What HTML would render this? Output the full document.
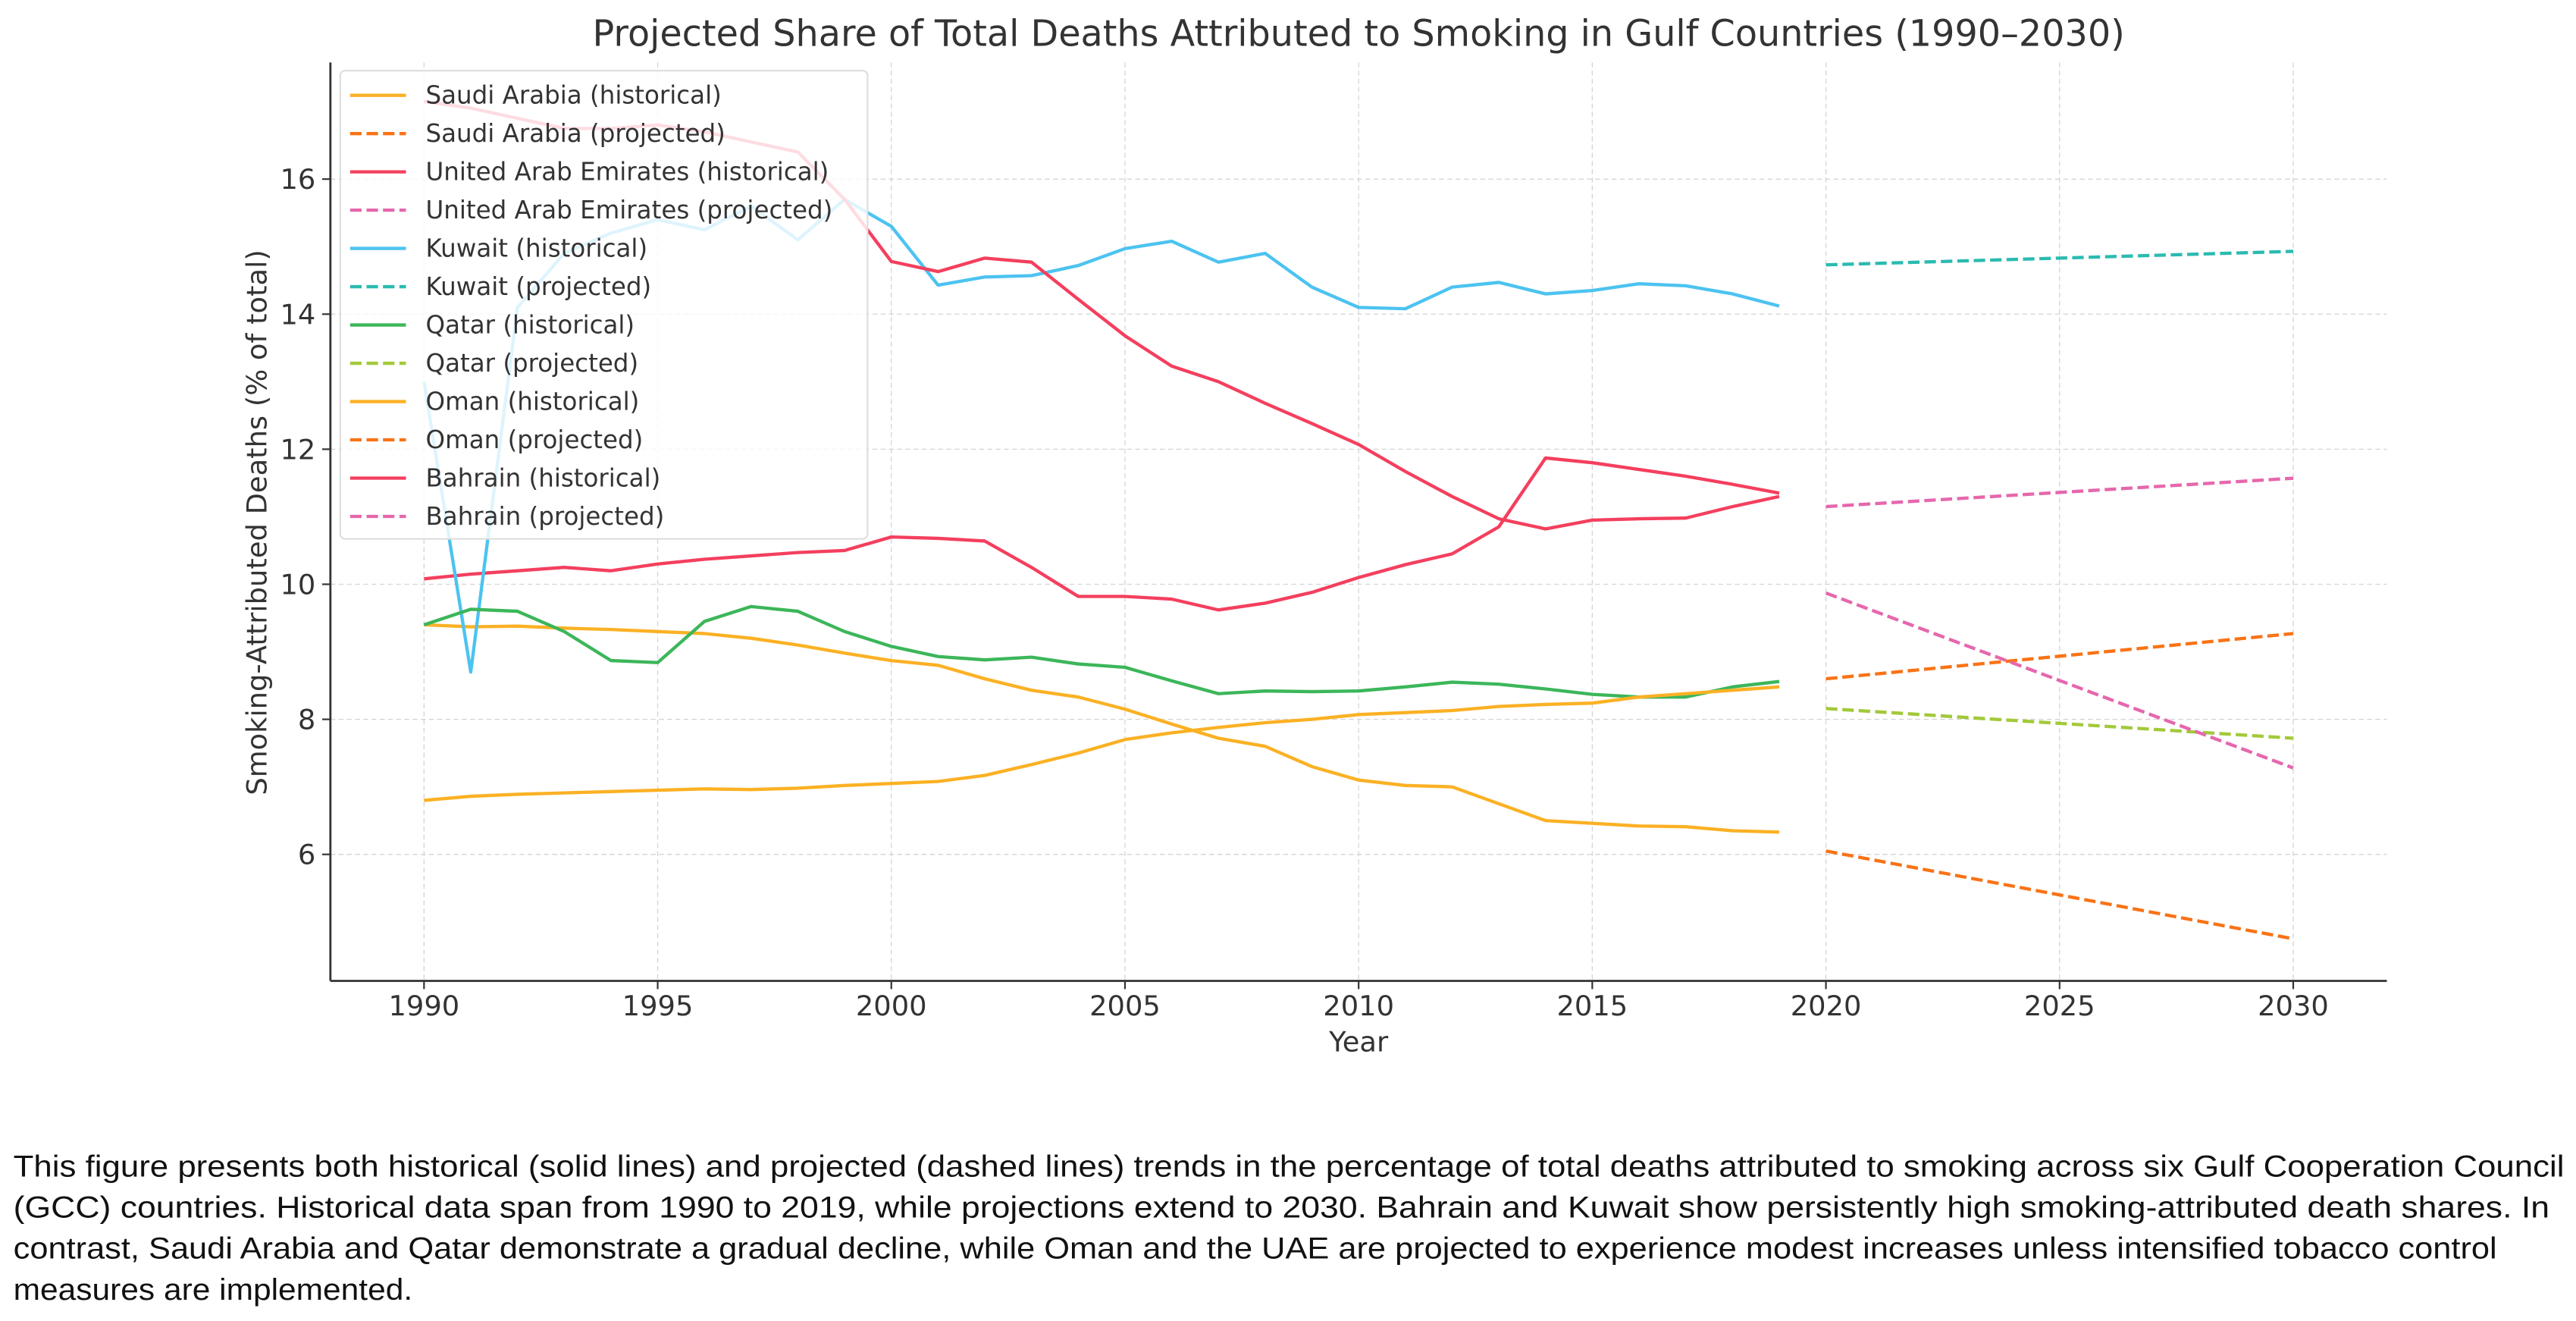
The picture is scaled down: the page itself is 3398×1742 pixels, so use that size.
<!DOCTYPE html>
<html><head><meta charset="utf-8"><style>
html,body{margin:0;padding:0;background:#fff;}
svg{display:block;}
text{font-family:"DejaVu Sans","Liberation Sans",sans-serif;}
.cap{font-family:"Liberation Sans Narrow","Liberation Sans",sans-serif;font-size:18.5px;fill:#111;}
</style></head><body>
<svg id="s" width="3398" height="1742" viewBox="0 0 1568 804" xmlns="http://www.w3.org/2000/svg">
<rect width="1568" height="804" fill="#fff"/>
<g id="grid"></g>
<g id="series"></g>
<g id="axes"></g>
<g id="legend"></g>
<text x="827" y="28" text-anchor="middle" font-size="22" fill="#333">Projected Share of Total Deaths Attributed to Smoking in Gulf Countries (1990–2030)</text>
<text x="827" y="640" text-anchor="middle" font-size="17" fill="#333">Year</text>
<text transform="translate(162,318) rotate(-90)" text-anchor="middle" font-size="17" fill="#333">Smoking-Attributed Deaths (% of total)</text>
<text class="cap" x="8" y="716" textLength="1553" lengthAdjust="spacingAndGlyphs">This figure presents both historical (solid lines) and projected (dashed lines) trends in the percentage of total deaths attributed to smoking across six Gulf Cooperation Council</text>
<text class="cap" x="8" y="741" textLength="1544" lengthAdjust="spacingAndGlyphs">(GCC) countries. Historical data span from 1990 to 2019, while projections extend to 2030. Bahrain and Kuwait show persistently high smoking-attributed death shares. In</text>
<text class="cap" x="8" y="766" textLength="1512" lengthAdjust="spacingAndGlyphs">contrast, Saudi Arabia and Qatar demonstrate a gradual decline, while Oman and the UAE are projected to experience modest increases unless intensified tobacco control</text>
<text class="cap" x="8" y="791" textLength="243" lengthAdjust="spacingAndGlyphs">measures are implemented.</text>
</svg>
<script>
const NS="http://www.w3.org/2000/svg";
const X=y=>258+(y-1990)*28.45, Y=v=>766.6-41.1*v;
function el(t,a,p){const e=document.createElementNS(NS,t);for(const k in a)e.setAttribute(k,a[k]);document.getElementById(p).appendChild(e);return e;}
for(let y=1990;y<=2030;y+=5)el('line',{x1:X(y),x2:X(y),y1:38,y2:597,stroke:'#d4d4d4','stroke-width':0.6,'stroke-dasharray':'3,2'},'grid');
for(let v=6;v<=16;v+=2)el('line',{x1:201,x2:1453,y1:Y(v),y2:Y(v),stroke:'#d4d4d4','stroke-width':0.6,'stroke-dasharray':'3,2'},'grid');
el('line',{x1:201,x2:201,y1:38,y2:597,stroke:'#333','stroke-width':1.3},'axes');
el('line',{x1:201,x2:1453,y1:597,y2:597,stroke:'#333','stroke-width':1.3},'axes');
for(let y=1990;y<=2030;y+=5){el('line',{x1:X(y),x2:X(y),y1:597,y2:602,stroke:'#333'},'axes');
 const t=el('text',{x:X(y),y:618,'text-anchor':'middle','font-size':17,fill:'#333'},'axes');t.textContent=y;}
for(let v=6;v<=16;v+=2){el('line',{x1:196,x2:201,y1:Y(v),y2:Y(v),stroke:'#333'},'axes');
 const t=el('text',{x:192,y:Y(v)+6,'text-anchor':'end','font-size':17,fill:'#333'},'axes');t.textContent=v;}
const C={sa:'#fbb124',sap:'#f97316',ua:'#f43f5e',uap:'#e667ad',kw:'#4cc3f0',kwp:'#2bbbb0',qa:'#3cb65a',qap:'#a3c93a'};
const H={
sa:[9.4,9.37,9.38,9.35,9.33,9.3,9.27,9.2,9.1,8.98,8.87,8.8,8.6,8.43,8.33,8.15,7.93,7.72,7.6,7.3,7.1,7.02,7.0,6.75,6.5,6.46,6.42,6.41,6.35,6.33],
om:[6.8,6.86,6.89,6.91,6.93,6.95,6.97,6.96,6.98,7.02,7.05,7.08,7.17,7.33,7.5,7.7,7.8,7.88,7.95,8.0,8.07,8.1,8.13,8.19,8.22,8.24,8.33,8.38,8.43,8.48],
ua:[10.08,10.15,10.2,10.25,10.2,10.3,10.37,10.42,10.47,10.5,10.7,10.68,10.64,10.25,9.82,9.82,9.78,9.62,9.72,9.88,10.1,10.29,10.45,10.85,11.87,11.8,11.7,11.6,11.48,11.35],
bh:[17.15,17.05,16.9,16.75,16.75,16.8,16.7,16.55,16.4,15.7,14.78,14.63,14.83,14.77,14.22,13.68,13.23,13.0,12.68,12.38,12.07,11.67,11.3,10.97,10.82,10.95,10.97,10.98,11.15,11.3],
kw:[13.0,8.7,14.1,14.9,15.2,15.4,15.25,15.6,15.1,15.7,15.3,14.43,14.55,14.57,14.72,14.97,15.08,14.77,14.9,14.4,14.1,14.08,14.4,14.47,14.3,14.35,14.45,14.42,14.3,14.12],
qa:[9.4,9.63,9.6,9.3,8.87,8.84,9.45,9.67,9.6,9.3,9.08,8.93,8.88,8.92,8.82,8.77,8.57,8.38,8.42,8.41,8.42,8.48,8.55,8.52,8.45,8.37,8.33,8.33,8.48,8.56]};
const col={sa:C.sa,om:C.sa,ua:C.ua,bh:C.ua,kw:C.kw,qa:C.qa};
for(const k of ['sa','ua','kw','qa','om','bh']){
 el('polyline',{points:H[k].map((v,i)=>X(1990+i)+','+Y(v)).join(' '),fill:'none',stroke:col[k],'stroke-width':2,'stroke-linejoin':'round'},'series');}
const P=[[6.05,4.75,C.sap],[11.15,11.57,C.uap],[14.73,14.93,C.kwp],[8.16,7.72,C.qap],[8.6,9.27,C.sap],[9.87,7.28,C.uap]];
for(const p of P)el('line',{x1:X(2020),y1:Y(p[0]),x2:X(2030),y2:Y(p[1]),stroke:p[2],'stroke-width':2,'stroke-dasharray':'7,3'},'series');
el('rect',{x:207,y:43,width:321,height:285,rx:3,fill:'#fff','fill-opacity':0.82,stroke:'#ddd','stroke-width':1},'legend');
const L=[['Saudi Arabia (historical)',C.sa,0],['Saudi Arabia (projected)',C.sap,1],['United Arab Emirates (historical)',C.ua,0],['United Arab Emirates (projected)',C.uap,1],['Kuwait (historical)',C.kw,0],['Kuwait (projected)',C.kwp,1],['Qatar (historical)',C.qa,0],['Qatar (projected)',C.qap,1],['Oman (historical)',C.sa,0],['Oman (projected)',C.sap,1],['Bahrain (historical)',C.ua,0],['Bahrain (projected)',C.uap,1]];
L.forEach((l,i)=>{const y=58+i*23.3;
 const a={x1:213,x2:247,y1:y,y2:y,stroke:l[1],'stroke-width':2};
 if(l[2])a['stroke-dasharray']='7,3';el('line',a,'legend');
 const t=el('text',{x:259,y:y+5,'font-size':15,fill:'#333'},'legend');t.textContent=l[0];});
</script>
</body></html>
